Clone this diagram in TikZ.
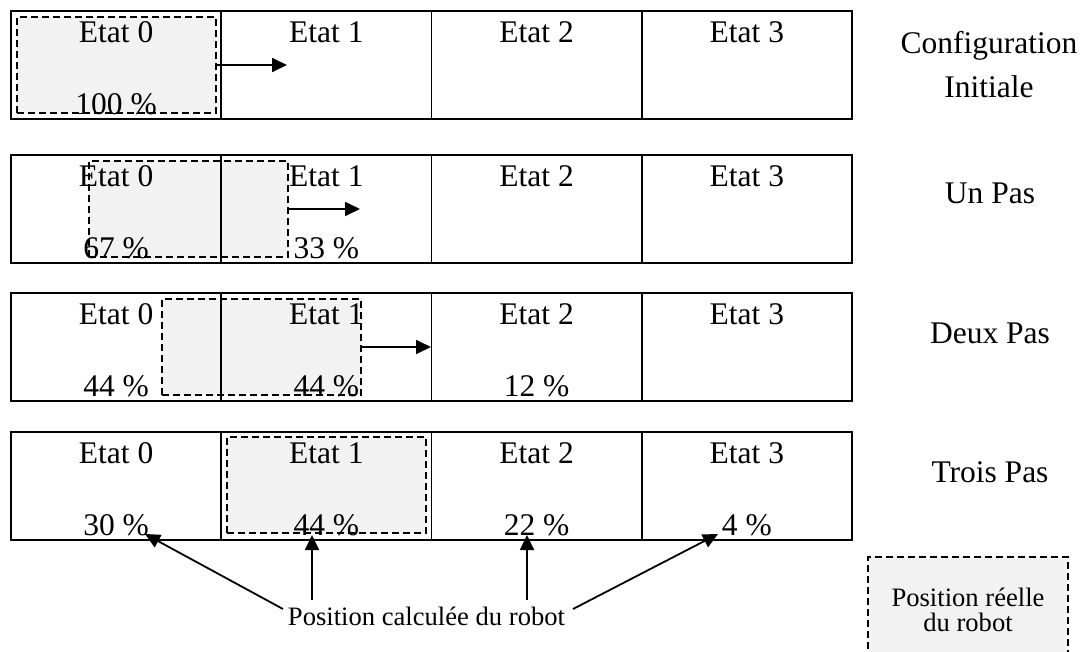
\documentclass[tikz,border=0pt]{standalone}
\usepackage{fontspec}
\setmainfont{Liberation Serif}
\usetikzlibrary{arrows.meta,calc}
\begin{document}
\begin{tikzpicture}[x=1pt,y=-1pt,
  cell/.style={draw, line width=1.8pt, minimum width=210.25pt, minimum height=108pt, anchor=north west, inner sep=0pt, outer sep=0pt},
  main/.style={font=\fontsize{31.5}{36}\selectfont, anchor=base, inner sep=0pt},
  small/.style={font=\fontsize{26.6}{30}\selectfont, anchor=base, inner sep=0pt},
  dashline/.style={line width=1.5pt, dash pattern=on 7pt off 4pt},
  robot/.style={dashline, draw, fill=black!5, minimum width=199pt, minimum height=96pt, anchor=north west, inner sep=0pt, outer sep=0pt},
  arr/.style={line width=1.8pt, -{Triangle[length=15pt,width=14pt]}},
]
\useasboundingbox (0,0) rectangle (1083,651);

% real robot positions
\node[robot] (rb1) at (17,17) {};
\node[robot] (rb2) at (89,161) {};
\node[robot] (rb3) at (162,299) {};
\node[robot] (rb4) at (227,437) {};

% cells and state names
\foreach \r/\T in {1/11,2/155,3/293,4/432}{
  \foreach \c in {0,...,3}{
    \node[cell] (c\r\c) at ({11+210.25*\c},\T) {};
    \node[main] (e\r\c) at ([yshift=-31pt]c\r\c.north) {Etat \c};
  }
}

% probabilities
\foreach \r/\c/\p in {1/0/100, 2/0/67, 2/1/33, 3/0/44, 3/1/44, 3/2/12, 4/0/30, 4/1/44, 4/2/22, 4/3/4}{
  \node[main] (p\r\c) at ([yshift=-103pt]c\r\c.north) {\p\ \%};
}

% motion arrows
\coordinate (t1) at ([xshift=71pt]rb1.east);
\coordinate (t2) at ([xshift=72pt]rb2.east);
\coordinate (t3) at ([xshift=70pt]rb3.east);
\draw[arr] (rb1.east) -- (t1);
\draw[arr] (rb2.east) -- (t2);
\draw[arr] (rb3.east) -- (t3);

% row labels
\node[main] (cfgA) at (989,53) {Configuration};
\node[main] (cfgB) at (989,97) {Initiale};
\node[main] (un) at (990,203) {Un Pas};
\node[main] (deux) at (990,343) {Deux Pas};
\node[main] (trois) at (990,482) {Trois Pas};

% calculated position
\node[small] (calc) at (426.5,625) {Position calculée du robot};
\coordinate (s0) at (283,609);
\coordinate (s1) at (312,600);
\coordinate (s2) at (527,600);
\coordinate (s3) at (573,609);
\coordinate (k0) at (145,534);
\coordinate (k1) at (312,535);
\coordinate (k2) at (527,535);
\coordinate (k3) at (718,534);
\foreach \i in {0,...,3}{ \draw[arr] (s\i) -- (k\i); }

% legend
\fill[black!5] (868,557) rectangle (1068,660);
\draw[dashline] (868,660) -- (868,557) -- (1068,557) -- (1068,660);
\node[small] (legA) at (968,606) {Position réelle};
\node[small] (legB) at (968,631) {du robot};
\end{tikzpicture}
\end{document}
